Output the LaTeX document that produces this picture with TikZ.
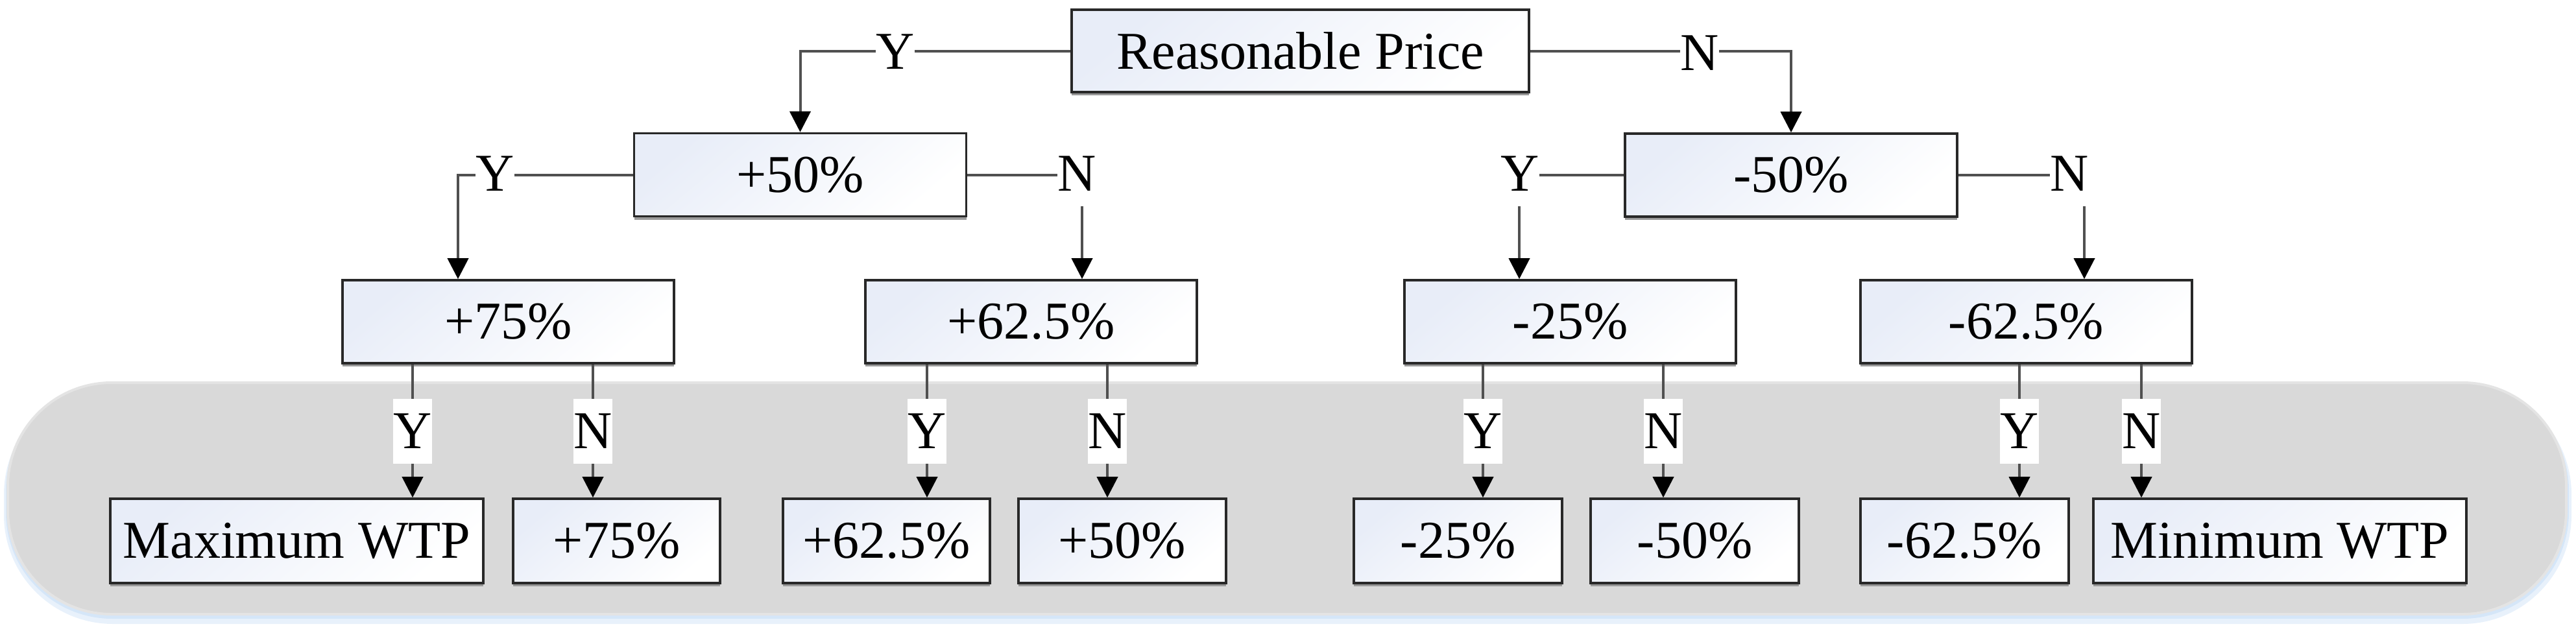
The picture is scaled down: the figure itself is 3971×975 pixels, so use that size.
\documentclass[tikz,border=0pt]{standalone}
\usepackage{fontspec}
\setmainfont{Liberation Serif}
\usetikzlibrary{arrows.meta,shadows,calc}
\definecolor{boxblue}{RGB}{232,237,248}
\definecolor{boxline}{RGB}{40,40,40}
\definecolor{bandgray}{RGB}{217,217,217}
\definecolor{bandedge}{RGB}{228,228,228}
\definecolor{connc}{RGB}{80,80,80}
\definecolor{glowc}{RGB}{205,225,247}
\begin{document}
\begin{tikzpicture}[x=0.25pt,y=-0.25pt,
  txt/.style={font=\fontsize{20.5}{24}\selectfont},
  box/.style={txt, draw=boxline, line width=0.9pt, inner sep=0pt,
    left color=boxblue, right color=white, shading angle=40,
    minimum height=32pt,
    drop shadow={shadow xshift=0pt, shadow yshift=-1.3pt, fill=black!40, opacity=1}},
  lab/.style={txt, fill=white, inner sep=0pt, minimum width=14.25pt, minimum height=25pt},
  conn/.style={draw=connc, line width=1pt, -{Triangle[width=8pt,length=8pt,color=black]}}]
\useasboundingbox (0,0) rectangle (3971,975);

% band with glow
\fill[glowc, opacity=0.45, rounded corners=42pt] (6,594) rectangle (3964,962);
\fill[glowc, opacity=0.7, rounded corners=41pt] (9,592) rectangle (3960,954);
\path[fill=bandgray, draw=bandedge, line width=1pt, rounded corners=40pt] (12,590) rectangle (3956,947);

% level 0
\node[box, minimum width=176.25pt, minimum height=31.75pt] (rp) at (2004.5,78.5) {Reasonable Price};
% level 1
\node[box, minimum width=128pt] (p50) at (1233.5,269.5) {+50\%};
\node[box, minimum width=128pt] (m50) at (2761,270) {-50\%};
% level 2
\node[box, minimum width=127.75pt] (p75) at (783.5,496) {+75\%};
\node[box, minimum width=127.75pt] (p625) at (1589.5,496) {+62.5\%};
\node[box, minimum width=127.75pt] (m25) at (2420.5,496) {-25\%};
\node[box, minimum width=127.75pt] (m625) at (3123.5,496) {-62.5\%};
% level 3
\node[box, minimum width=143.75pt, minimum height=32.5pt] (maxw) at (457.5,834) {Maximum WTP};
\node[box, minimum width=79.75pt, minimum height=32.5pt] (q75) at (950.5,834) {+75\%};
\node[box, minimum width=79.75pt, minimum height=32.5pt] (q625) at (1366.5,834) {+62.5\%};
\node[box, minimum width=80pt, minimum height=32.5pt] (q50) at (1730,834) {+50\%};
\node[box, minimum width=80.25pt, minimum height=32.5pt] (r25) at (2247.5,834) {-25\%};
\node[box, minimum width=80.25pt, minimum height=32.5pt] (r50) at (2612.5,834) {-50\%};
\node[box, minimum width=80.25pt, minimum height=32.5pt] (r625) at (3028.5,834) {-62.5\%};
\node[box, minimum width=143.75pt, minimum height=32.5pt] (minw) at (3514.5,834) {Minimum WTP};

% connectors level 0 -> 1
\draw[conn] (rp.west) -| (p50.north);
\draw[conn] (rp.east) -| (m50.north);
% level 1 -> 2
\draw[conn] (p50.west) -| (706,0 |- p75.north);
\draw[conn] (p50.east) -| (1668,0 |- p625.north);
\draw[conn] (m50.west) -| (2342,0 |- m25.north);
\draw[conn] (m50.east) -| (3213,0 |- m625.north);
% level 2 -> 3
\draw[conn] (636,0 |- p75.south) -- (636,0 |- maxw.north);
\draw[conn] (914,0 |- p75.south) -- (914,0 |- q75.north);
\draw[conn] (1429,0 |- p625.south) -- (1429,0 |- q625.north);
\draw[conn] (1707,0 |- p625.south) -- (1707,0 |- q50.north);
\draw[conn] (2286,0 |- m25.south) -- (2286,0 |- r25.north);
\draw[conn] (2564,0 |- m25.south) -- (2564,0 |- r50.north);
\draw[conn] (3113,0 |- m625.south) -- (3113,0 |- r625.north);
\draw[conn] (3301,0 |- m625.south) -- (3301,0 |- minw.north);

% labels
\node[lab] (la) at (1380,80) {Y};
\node[lab] (lb) at (2620,82) {N};
\node[lab] (lc) at (763,268) {Y};
\node[lab] (ld) at (1660,268) {N};
\node[lab] (le) at (2343,268) {Y};
\node[lab] (lf) at (3190,268) {N};
\node[lab] (lg) at (636,665) {Y};
\node[lab] (lh) at (914,665) {N};
\node[lab] (li) at (1429,665) {Y};
\node[lab] (lj) at (1707,665) {N};
\node[lab] (lk) at (2286,665) {Y};
\node[lab] (ll) at (2564,665) {N};
\node[lab] (lm) at (3113,665) {Y};
\node[lab] (ln) at (3301,665) {N};
\end{tikzpicture}
\end{document}
